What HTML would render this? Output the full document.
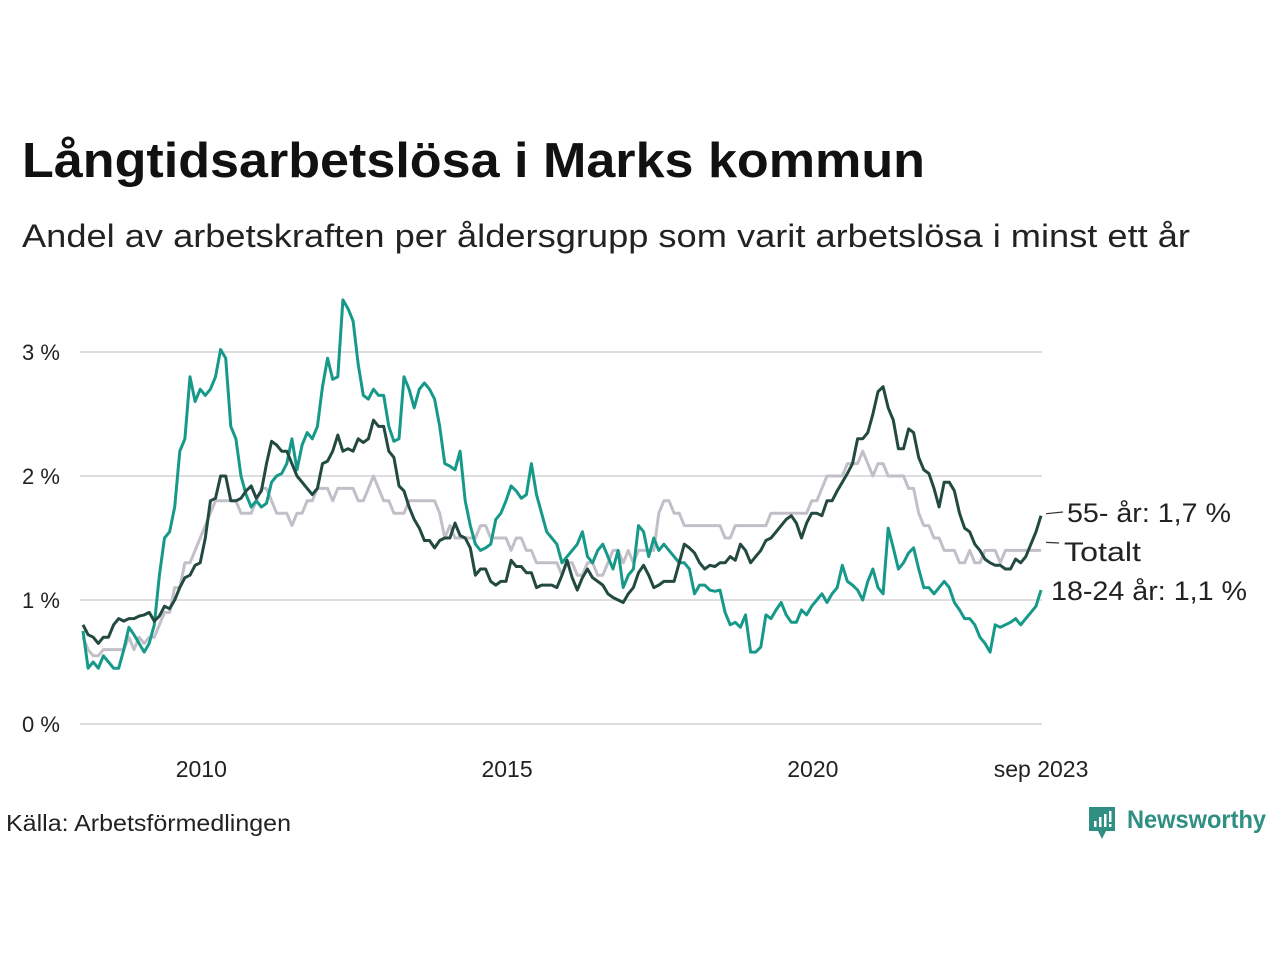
<!DOCTYPE html>
<html><head><meta charset="utf-8"><style>
html,body{margin:0;padding:0;background:#fff;}
svg{display:block;font-family:"Liberation Sans",sans-serif;}
</style></head><body>
<svg id="chart" width="1280" height="960" viewBox="0 0 1280 960">
<text x="22" y="177" font-size="49" font-weight="bold" fill="#111" textLength="903" lengthAdjust="spacingAndGlyphs">Långtidsarbetslösa i Marks kommun</text>
<text x="22" y="247" font-size="32" fill="#222" textLength="1168" lengthAdjust="spacingAndGlyphs">Andel av arbetskraften per åldersgrupp som varit arbetslösa i minst ett år</text>
<g id="grid"></g>
<g id="xaxis"></g>
<g id="series"></g>
<g id="labels"></g>
<text x="6" y="831" font-size="23" fill="#222" textLength="285" lengthAdjust="spacingAndGlyphs">Källa: Arbetsförmedlingen</text>
<g>
<path d="M1089 807 h26 v24 h-9 l-4 8 l-4 -8 h-9 z" fill="#2f8f83"/>
<rect x="1094" y="821" width="2.5" height="6" fill="#fff"/><rect x="1099" y="817" width="2.5" height="10" fill="#fff"/><rect x="1104" y="814" width="2.5" height="13" fill="#fff"/><rect x="1109" y="811" width="2.5" height="11" fill="#fff"/><rect x="1109" y="824" width="2.5" height="3" fill="#fff"/>
<text x="1127" y="828" font-size="25" font-weight="bold" fill="#2f8f83" textLength="139" lengthAdjust="spacingAndGlyphs">Newsworthy</text>
</g>
</svg>
<script>
const yTicks = [0, 1, 2, 3];
const xTickYears = [2010, 2015, 2020];
const xTickLabels = ["2010", "2015", "2020"];
const startYear = 2008;
const youth = [
0.75,0.45,0.5,0.45,0.55,0.5,0.45,0.45,0.6,0.78,0.72,0.65,
0.58,0.65,0.8,1.2,1.5,1.55,1.75,2.2,2.3,2.8,2.6,2.7,
2.65,2.7,2.8,3.02,2.95,2.4,2.3,2.0,1.85,1.75,1.8,1.75,
1.78,1.95,2.0,2.02,2.1,2.3,2.05,2.25,2.35,2.3,2.4,2.72,
2.95,2.78,2.8,3.42,3.35,3.25,2.9,2.65,2.62,2.7,2.65,2.65,
2.4,2.28,2.3,2.8,2.7,2.55,2.7,2.75,2.7,2.62,2.4,2.1,
2.08,2.05,2.2,1.8,1.6,1.45,1.4,1.42,1.45,1.65,1.7,1.8,
1.92,1.88,1.82,1.85,2.1,1.85,1.7,1.55,1.5,1.45,1.3,1.35,
1.4,1.45,1.55,1.35,1.3,1.4,1.45,1.35,1.25,1.4,1.1,1.2,
1.25,1.6,1.55,1.35,1.5,1.4,1.45,1.4,1.35,1.3,1.3,1.25,
1.05,1.12,1.12,1.08,1.07,1.08,0.9,0.8,0.82,0.78,0.88,0.58,
0.58,0.62,0.88,0.85,0.92,0.98,0.88,0.82,0.82,0.92,0.88,0.95,
1.0,1.05,0.98,1.05,1.1,1.28,1.15,1.12,1.08,1.0,1.15,1.25,
1.1,1.05,1.58,1.42,1.25,1.3,1.38,1.42,1.25,1.1,1.1,1.05,
1.1,1.15,1.1,0.98,0.92,0.85,0.85,0.8,0.7,0.65,0.58,0.8,
0.78,0.8,0.82,0.85,0.8,0.85,0.9,0.95,1.08];
const senior = [
0.8,0.72,0.7,0.65,0.7,0.7,0.8,0.85,0.83,0.85,0.85,0.87,
0.88,0.9,0.83,0.87,0.95,0.93,1.0,1.1,1.18,1.2,1.28,1.3,
1.5,1.8,1.82,2.0,2.0,1.8,1.8,1.82,1.88,1.92,
1.82,1.88,2.1,2.28,2.25,2.2,2.2,2.1,2.0,1.95,
1.9,1.85,1.9,2.1,2.12,2.2,2.33,2.2,2.22,2.2,
2.3,2.27,2.3,2.45,2.4,2.4,2.2,2.15,1.92,1.88,
1.75,1.65,1.58,1.48,1.48,1.42,1.48,1.5,1.5,1.62,
1.52,1.5,1.42,1.2,1.25,1.25,1.15,1.12,1.15,1.15,
1.32,1.27,1.27,1.22,1.22,1.1,1.12,1.12,1.12,1.1,
1.2,1.32,1.18,1.08,1.18,1.25,1.18,1.15,1.12,1.05,
1.02,1.0,0.98,1.05,1.1,1.22,1.28,1.2,1.1,1.12,
1.15,1.15,1.15,1.3,1.45,1.42,1.38,1.3,1.25,1.28,
1.27,1.3,1.3,1.35,1.32,1.45,1.4,1.3,1.35,1.4,
1.48,1.5,1.55,1.6,1.65,1.68,1.62,1.5,1.62,1.7,
1.7,1.68,1.8,1.8,1.88,1.95,2.02,2.1,2.3,2.3,
2.35,2.5,2.68,2.72,2.55,2.45,2.22,2.22,2.38,2.35,
2.15,2.05,2.02,1.9,1.75,1.95,1.95,1.88,1.7,1.58,
1.55,1.45,1.4,1.33,1.3,1.28,1.28,1.25,1.25,1.33,
1.3,1.35,1.45,1.55,1.68];
const total = [
0.7,0.6,0.55,0.55,0.6,0.6,0.6,0.6,0.6,0.7,0.6,0.7,
0.65,0.7,0.7,0.8,0.9,0.9,1.1,1.1,1.3,1.3,1.4,1.5,
1.6,1.7,1.8,1.8,1.8,1.8,1.8,1.7,1.7,1.7,1.8,1.9,
1.9,1.8,1.7,1.7,1.7,1.6,1.7,1.7,1.8,1.8,1.9,1.9,
1.9,1.8,1.9,1.9,1.9,1.9,1.8,1.8,1.9,2.0,1.9,1.8,
1.8,1.7,1.7,1.7,1.8,1.8,1.8,1.8,1.8,1.8,1.7,1.5,
1.6,1.5,1.5,1.5,1.5,1.5,1.6,1.6,1.5,1.5,1.5,1.5,
1.4,1.5,1.5,1.4,1.4,1.3,1.3,1.3,1.3,1.3,1.2,1.3,
1.3,1.2,1.2,1.3,1.3,1.2,1.2,1.3,1.4,1.4,1.3,1.4,
1.3,1.4,1.4,1.4,1.4,1.7,1.8,1.8,1.7,1.7,1.6,1.6,
1.6,1.6,1.6,1.6,1.6,1.6,1.5,1.5,1.6,1.6,1.6,1.6,
1.6,1.6,1.6,1.7,1.7,1.7,1.7,1.7,1.7,1.7,1.7,1.8,
1.8,1.9,2.0,2.0,2.0,2.0,2.1,2.1,2.1,2.2,2.1,2.0,
2.1,2.1,2.0,2.0,2.0,2.0,1.9,1.9,1.7,1.6,1.6,1.5,
1.5,1.4,1.4,1.4,1.3,1.3,1.4,1.3,1.3,1.4,1.4,1.4,
1.3,1.4,1.4,1.4,1.4,1.4,1.4,1.4,1.4];

const NS = "http://www.w3.org/2000/svg";
const X0 = 83, PXM = 5.096, Y0 = 724, PXU = 124;
function xOfIndex(i){ return X0 + i*PXM; }
function xOfYear(y){ return X0 + (y - startYear)*12*PXM; }
function yOf(v){ return Y0 - v*PXU; }
function mk(tag, attrs, parent){ const e=document.createElementNS(NS,tag); for(const k in attrs) e.setAttribute(k, attrs[k]); parent.appendChild(e); return e; }

const grid = document.getElementById('grid');
yTicks.forEach(t=>{
  const l = mk('line',{x1:80,x2:1042,y1:yOf(t),y2:yOf(t),stroke:'#dedede','stroke-width':2},grid);
  
  
  const tx = mk('text',{x:22,y:yOf(t)+8,'font-size':22,fill:'#222'},grid);
  tx.textContent = t+' %';
  
  
});
const xa = document.getElementById('xaxis');
xTickYears.forEach((y,i)=>{
  const tx = mk('text',{x:xOfYear(y)-4,y:777,'font-size':23,fill:'#222','text-anchor':'middle'},xa);
  tx.textContent = xTickLabels[i];
  
  
});
const last = xOfIndex(youth.length-1);
const lt = mk('text',{x:last,y:777,'font-size':23,fill:'#222','text-anchor':'middle'},xa);
lt.textContent = 'sep 2023';



const sg = document.getElementById('series');
function line(data, color, name){
  const d = data.map((v,i)=>(i?'L':'M')+xOfIndex(i).toFixed(1)+' '+yOf(v).toFixed(1)).join(' ');
  const p = mk('path',{d:d,fill:'none',stroke:color,'stroke-width':3,'stroke-linejoin':'round'},sg);
  
  
}
line(total,'#c3bfc9','line-totalt');
line(youth,'#17998a','line-18-24');
line(senior,'#224a40','line-55-plus');

const lg = document.getElementById('labels');
const ey1 = yOf(senior[senior.length-1]), ey2 = yOf(total[total.length-1]);
mk('line',{x1:last+5,y1:ey1-2,x2:last+22,y2:512,stroke:'#333','stroke-width':1.2},lg);
mk('line',{x1:last+5,y1:ey2-8,x2:last+18,y2:543,stroke:'#333','stroke-width':1.2},lg);
const labs = [['55- år: 1,7 %',1067,522,164,'label-55-plus'],['Totalt',1064,561,77,'label-totalt'],['18-24 år: 1,1 %',1051,600,196,'label-18-24']];
labs.forEach(l=>{
  const t = mk('text',{x:l[1],y:l[2],'font-size':27,fill:'#222',textLength:l[3],lengthAdjust:'spacingAndGlyphs'},lg);
  t.textContent = l[0];
  
  
});
</script>
</body></html>
